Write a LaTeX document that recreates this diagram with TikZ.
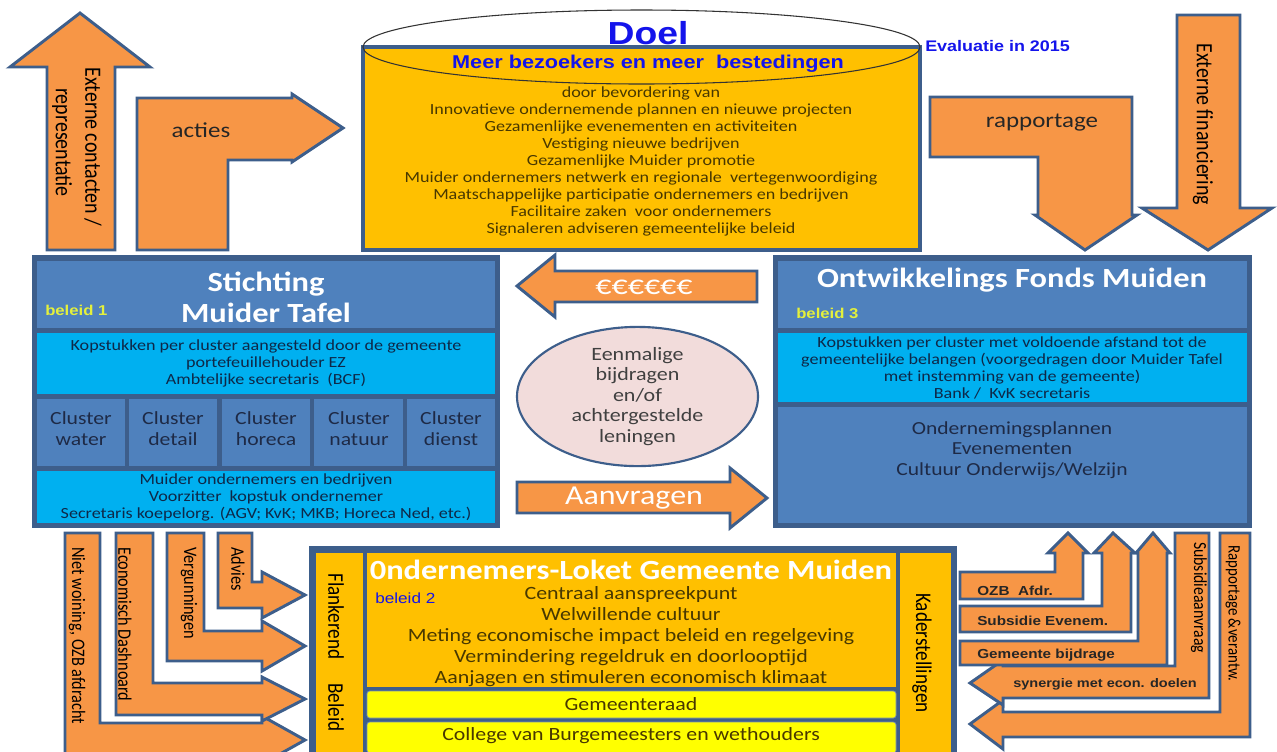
\documentclass[tikz,border=0pt]{standalone}
\usepackage{fontspec}
\usetikzlibrary{shapes.geometric}
\setmainfont{Carlito}[FakeStretch=1.17]
\newfontfamily\upfont{Carlito}[FakeStretch=0.855]
\newfontfamily\arialfont{Liberation Sans}[FakeStretch=1.17]
\newcommand\setfs[2]{\fontsize{#1}{#2}\selectfont\lineskiplimit=-100pt\relax}

\definecolor{frameblue}{RGB}{61,94,139}
\definecolor{headblue}{RGB}{79,129,189}
\definecolor{cyanband}{RGB}{0,176,240}
\definecolor{arrowfill}{RGB}{247,150,70}
\definecolor{goldfill}{RGB}{255,192,0}
\definecolor{lemon}{RGB}{255,255,0}
\definecolor{rosefill}{RGB}{242,220,219}
\definecolor{olivetext}{RGB}{72,56,0}
\definecolor{navytext}{RGB}{14,40,72}
\definecolor{slatetext}{RGB}{30,42,70}
\definecolor{tagyellow}{RGB}{228,240,60}
\definecolor{titleblue}{RGB}{20,20,235}

\begin{document}
\begin{tikzpicture}[x=0.75pt,y=-0.75pt,
  blockarrow/.style={fill=arrowfill, draw=frameblue, line width=2.2pt, line join=miter},
  txt/.style={inner sep=0pt, align=center},
  vtext/.style={inner sep=0pt, rotate=-90, anchor=west, text=black},
  tag/.style={inner sep=0pt, anchor=west}]

\useasboundingbox (0,0) rectangle (1277,751);
\fill[white] (0,0) rectangle (1277,751);
\clip (0,0) rectangle (1277,751);

% ---------- top row: arrows around the goal ----------
\draw[blockarrow] (47,250) -- (47,67) -- (10,67) -- (80,13) -- (150,67) -- (115,67) -- (115,250) -- cycle;
\node[vtext, font=\upfont\setfs{17.5}{20}] (extcontact) at (93,67) {Externe contacten /};
\node[vtext, font=\upfont\setfs{17.5}{20}] (extrep) at (62,88) {representatie};

\draw[blockarrow] (137,250) -- (137,98) -- (292,98) -- (292,94) -- (343,128) -- (292,162) -- (292,160) -- (228,160) -- (228,250) -- cycle;
\node[txt, font=\setfs{16}{19}, text=black!85] (acties) at (201,130) {acties};

\draw[blockarrow] (930,97) -- (1132,97) -- (1132,215) -- (1137,215) -- (1085,250) -- (1035,215) -- (1038,215) -- (1038,157) -- (930,157) -- cycle;
\node[txt, font=\setfs{16}{19}, text=black!85] (rapportage) at (1042,123) {rapportage};

\draw[blockarrow] (1177,15) -- (1240,15) -- (1240,208) -- (1272,208) -- (1208,250) -- (1142,208) -- (1177,208) -- cycle;
\node[vtext, font=\upfont\setfs{17.5}{20}] (extfin) at (1203,43) {Externe financiering};

% ---------- goal cylinder ----------
\draw[fill=goldfill, draw=frameblue, line width=2.8pt] (363,47) rectangle (920,250);
\draw[black!80, line width=0.8pt] (641.5,47) ellipse [x radius=208.9pt, y radius=27.75pt];
\node[txt, font=\arialfont\bfseries\setfs{23.9}{28}, text=titleblue] (doel) at (648,33) {Doel};
\node[txt, font=\arialfont\bfseries\setfs{13.9}{16}, text=titleblue] (meer) at (648,64) {Meer bezoekers en meer\ \ bestedingen};
\node[txt, font=\setfs{11.6}{12.75}, text=olivetext] (doelbody) at (641,161)
  {door bevordering van\\
   Innovatieve ondernemende plannen en nieuwe projecten\\
   Gezamenlijke evenementen en activiteiten\\
   Vestiging nieuwe bedrijven\\
   Gezamenlijke Muider promotie\\
   Muider ondernemers netwerk en regionale\ \ vertegenwoordiging\\
   Maatschappelijke participatie ondernemers en bedrijven\\
   Facilitaire zaken\ \ voor ondernemers\\
   Signaleren adviseren gemeentelijke beleid};
\node[tag, font=\arialfont\bfseries\setfs{11.5}{13}, text=titleblue] (evaluatie) at (925,46) {Evaluatie in 2015};

% ---------- Stichting Muider Tafel ----------
\fill[frameblue] (32,255) rectangle (500,528);
\fill[headblue] (37,261) rectangle (495,328);
\fill[cyanband] (37,333) rectangle (495,394);
\fill[headblue] (37,399) rectangle (125,466);
\fill[headblue] (129,399) rectangle (217,466);
\fill[headblue] (222,399) rectangle (310,466);
\fill[headblue] (314,399) rectangle (403,466);
\fill[headblue] (407,399) rectangle (495,466);
\fill[cyanband] (37,471) rectangle (495,523);
\node[txt, font=\bfseries\setfs{20.8}{23.25}, text=white] (stichting) at (266,297) {Stichting\\Muider Tafel};
\node[tag, font=\arialfont\bfseries\setfs{10.7}{12}, text=tagyellow] (beleid1) at (45,310) {beleid 1};
\node[txt, font=\setfs{11.6}{12.75}, text=navytext] (kopA) at (266,363)
  {Kopstukken per cluster aangesteld door de gemeente\\portefeuillehouder EZ\\Ambtelijke secretaris\ \ (BCF)};
\node[txt, font=\setfs{13.9}{15.75}, text=slatetext] (clwater) at (81,429) {Cluster\\water};
\node[txt, font=\setfs{13.9}{15.75}, text=slatetext] (cldetail) at (173,429) {Cluster\\detail};
\node[txt, font=\setfs{13.9}{15.75}, text=slatetext] (clhoreca) at (266,429) {Cluster\\horeca};
\node[txt, font=\setfs{13.9}{15.75}, text=slatetext] (clnatuur) at (359,429) {Cluster\\natuur};
\node[txt, font=\setfs{13.9}{15.75}, text=slatetext] (cldienst) at (451,429) {Cluster\\dienst};
\node[txt, font=\setfs{11.6}{12.75}, text=navytext] (muiderond) at (266,497)
  {Muider ondernemers en bedrijven\\Voorzitter\ \ kopstuk ondernemer\\Secretaris koepelorg. (AGV; KvK; MKB; Horeca Ned, etc.)};

% ---------- Ontwikkelings Fonds Muiden ----------
\fill[frameblue] (773,255) rectangle (1252,528);
\fill[headblue] (778,261) rectangle (1247,328);
\fill[cyanband] (778,333) rectangle (1247,402);
\fill[headblue] (778,407) rectangle (1247,523);
\node[txt, font=\bfseries\setfs{20.8}{23.25}, text=white] (fonds) at (1012,280) {Ontwikkelings Fonds Muiden};
\node[tag, font=\arialfont\bfseries\setfs{10.7}{12}, text=tagyellow] (beleid3) at (796,313) {beleid 3};
\node[txt, font=\setfs{11.6}{12.75}, text=navytext] (kopB) at (1012,368)
  {Kopstukken per cluster met voldoende afstand tot de\\gemeentelijke belangen (voorgedragen door Muider Tafel\\met instemming van de gemeente)\\Bank /\ \ KvK secretaris};
\node[txt, font=\setfs{13.8}{15.4}, text=slatetext] (plannen) at (1012,450)
  {Ondernemingsplannen\\Evenementen\\Cultuur Onderwijs/Welzijn};

% ---------- centre: money, contributions, requests ----------
\draw[blockarrow] (757,271) -- (555,271) -- (555,255) -- (517,286) -- (555,317) -- (555,302) -- (757,302) -- cycle;
\node[txt, font=\setfs{20.5}{24}, text=white] (euro) at (644,287) {€€€€€€};
\node[ellipse, draw=frameblue, line width=1.6pt, fill=rosefill, minimum width=180.75pt, minimum height=99.75pt,
      inner sep=0pt, align=center, font=\setfs{14.1}{15.4}, text=black!75] (bijdragen) at (637.5,396.5)
  {Eenmalige\\bijdragen\\en/of\\achtergestelde\\leningen};
\draw[blockarrow] (517,482) -- (730,482) -- (730,468) -- (767,498) -- (730,528) -- (730,513) -- (517,513) -- cycle;
\node[txt, font=\setfs{20.5}{24}, text=white] (aanvragen) at (634,498) {Aanvragen};

% ---------- Ondernemers-Loket ----------
\fill[frameblue] (309,546) rectangle (957,760);
\fill[goldfill] (316,553) rectangle (363,760);
\fill[goldfill] (367,553) rectangle (896,687);
\draw[fill=lemon, draw=frameblue!70, line width=0.6pt, rounded corners=2pt] (367,691) rectangle (896,718);
\draw[fill=lemon, draw=frameblue!70, line width=0.6pt, rounded corners=2pt] (367,722) rectangle (896,753);
\fill[goldfill] (900,553) rectangle (951,760);
\node[txt, font=\bfseries\setfs{20.8}{23.25}, text=white] (loket) at (631,570) {0ndernemers-Loket Gemeente Muiden};
\node[tag, font=\arialfont\setfs{11}{13}, text=titleblue] (beleid2) at (375,598) {beleid 2};
\node[txt, font=\setfs{14.05}{15.75}, text=olivetext] (loketbody) at (631,637)
  {Centraal aanspreekpunt\\Welwillende cultuur\\Meting economische impact beleid en regelgeving\\Vermindering regeldruk en doorlooptijd\\Aanjagen en stimuleren economisch klimaat};
\node[txt, font=\setfs{14}{16}, text=olivetext] (raad) at (631,704) {Gemeenteraad};
\node[txt, font=\setfs{14}{16}, text=olivetext] (college) at (631,736) {College van Burgemeesters en wethouders};
\node[vtext, font=\upfont\setfs{16.8}{19}] (flank) at (336,573) {Flankerend};
\node[vtext, font=\upfont\setfs{16.8}{19}] (beleidv) at (336,683) {Beleid};
\node[vtext, font=\upfont\setfs{16.8}{19}] (kader) at (922,593) {Kaderstellingen};

% ---------- lower left: instruments toward the Loket ----------
\draw[blockarrow] (65,533) -- (100,533) -- (100,723) -- (262,723) -- (262,716) -- (305,740) -- (262,764) -- (262,757) -- (65,757) -- cycle;
\draw[blockarrow] (116,533) -- (153,533) -- (153,683) -- (262,683) -- (262,677) -- (305,699) -- (262,721) -- (262,715) -- (116,715) -- cycle;
\draw[blockarrow] (167,533) -- (204,533) -- (204,631) -- (262,631) -- (262,621) -- (305,646) -- (262,671) -- (262,661) -- (167,661) -- cycle;
\draw[blockarrow] (218,533) -- (252,533) -- (252,582) -- (262,582) -- (262,572) -- (305,595) -- (262,618) -- (262,608) -- (218,608) -- cycle;
\node[vtext, font=\upfont\setfs{14.3}{17}] (ozbafdracht) at (77,547) {Niet woining, OZB afdracht};
\node[vtext, font=\upfont\setfs{14.3}{17}] (dashboard) at (125,547) {Economisch Dashnoard};
\node[vtext, font=\upfont\setfs{14.3}{17}] (vergunning) at (189,547) {Vergunningen};
\node[vtext, font=\upfont\setfs{14.3}{17}] (advies) at (238,547) {Advies};

% ---------- lower right: flows to and from the Fonds ----------
\draw[blockarrow] (1220,533) -- (1250,533) -- (1250,737) -- (1003,737) -- (1003,749) -- (970,724) -- (1003,700) -- (1003,712) -- (1220,712) -- cycle;
\draw[blockarrow] (1175,533) -- (1209,533) -- (1209,698) -- (1003,698) -- (1003,705) -- (970,683) -- (1003,660) -- (1003,666) -- (1175,666) -- cycle;
\draw[blockarrow] (960,641) -- (1138,641) -- (1138,553) -- (1136,553) -- (1153,533) -- (1170,553) -- (1167,553) -- (1167,665) -- (960,665) -- cycle;
\draw[blockarrow] (960,606) -- (1102,606) -- (1102,553) -- (1094,553) -- (1113,533) -- (1135,553) -- (1131,553) -- (1131,632) -- (960,632) -- cycle;
\draw[blockarrow] (960,572) -- (1055,572) -- (1055,553) -- (1048,553) -- (1068,533) -- (1088,553) -- (1083,553) -- (1083,599) -- (960,599) -- cycle;
\node[tag, font=\arialfont\bfseries\setfs{9.8}{12}, text=black!85] (ozb) at (977,591) {OZB\ \ Afdr.};
\node[tag, font=\arialfont\bfseries\setfs{9.8}{12}, text=black!85] (subsev) at (977,621) {Subsidie Evenem.};
\node[tag, font=\arialfont\bfseries\setfs{9.8}{12}, text=black!85] (gembijdrage) at (977,655) {Gemeente bijdrage};
\node[tag, font=\arialfont\bfseries\setfs{9.3}{11}, text=black!85] (synergie) at (1013,684) {synergie met econ. doelen};
\node[vtext, font=\upfont\setfs{13.8}{16}] (subsaanvraag) at (1199,542) {Subsidieaanvraag};
\node[vtext, font=\upfont\setfs{13.1}{15}] (rapverantw) at (1233,545) {Rapportage \&verantw.};

\end{tikzpicture}
\end{document}
